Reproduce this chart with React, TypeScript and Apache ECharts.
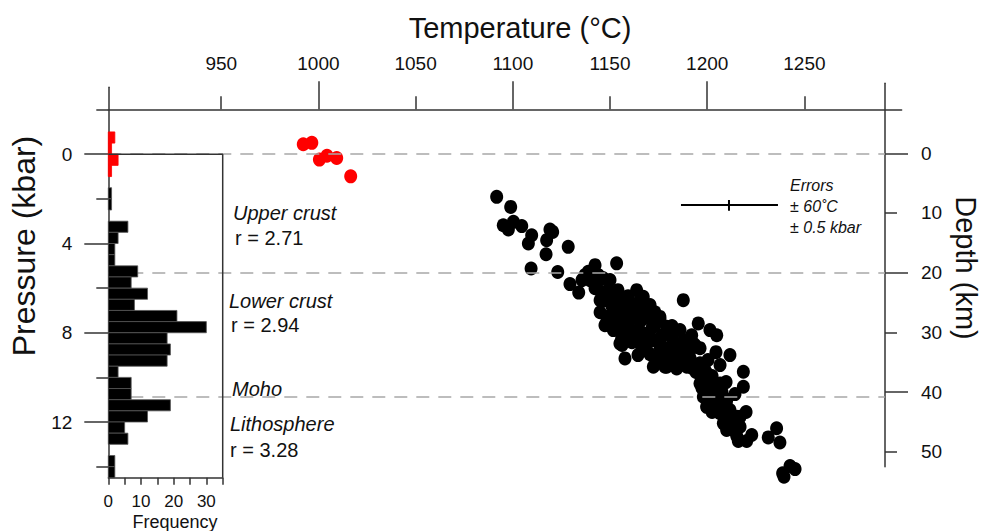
import React, { useEffect, useRef } from "react";
import * as echarts from "echarts";

const FONT = "'Liberation Sans', Arial, Helvetica, sans-serif";
const INK = "#111";
const AXIS = "#333";

// ---- axis ticks / labels ----
const temperatureLabels = [950, 1000, 1050, 1100, 1150, 1200, 1250];
const temperatureMajorTicks = [1000, 1100, 1200];
const temperatureMinorTicks = [950, 1050, 1150, 1250];
const pressureLabels = [0, 4, 8, 12];
const pressureMinorTicks = [-2, 2, 6, 10, 14];
const depthLabels = [0, 10, 20, 30, 40, 50];
const depthMajorTicks = [0, 20, 40];
const depthMinorTicks = [10, 30, 50];
const frequencyLabels = [0, 10, 20, 30];

// ---- boundaries (kbar) ----
const boundaryPressures = [0, 5.33, 10.85];

// ---- histogram (0.5 kbar bins) ----
const histBinWidth = 0.5;
const blackBinStarts = [1.5, 2.0, 3.0, 3.5, 4.0, 4.5, 5.0, 5.5, 6.0, 6.5, 7.0, 7.5, 8.0, 8.5, 9.0, 9.5, 10.0, 10.5, 11.0, 11.5, 12.0, 12.5, 13.5, 14.0];
const blackBinCounts = [1, 1, 6, 3, 2, 2, 9, 7, 12, 8, 21, 30, 18, 19, 18, 3, 7, 7, 19, 12, 5, 6, 2, 2];
const redBinStarts = [-1.0, -0.5, 0.0, 0.5];
const redBinCounts = [2, 1, 3, 1];

// ---- scatter: [temperature °C, pressure kbar] ----
const redPoints = [
  [992.2, -0.45], [996.6, -0.51], [1000.5, 0.24], [1004.4, 0.07], [1009.4, 0.17], [1016.6, 0.99],
];

const blackPoints = [
  [1091.7, 1.91], [1098.9, 2.36], [1095.1, 3.18], [1097.7, 3.37], [1100.3, 3.03], [1104.6, 3.22],
  [1109.7, 3.63], [1108.0, 4.0], [1119.1, 3.37], [1120.5, 3.48], [1117.4, 3.85], [1117.1, 4.48],
  [1128.5, 4.15], [1109.4, 5.12], [1123.1, 5.28], [1129.4, 5.82], [1133.9, 6.2], [1138.8, 5.27],
  [1142.3, 4.97], [1144.0, 5.42], [1139.7, 5.64], [1150.0, 5.64], [1153.4, 4.89], [1147.4, 6.54],
  [1149.1, 6.09], [1155.1, 6.39], [1163.7, 6.09], [1167.1, 6.39], [1168.9, 6.84], [1158.6, 6.99],
  [1148.3, 7.29], [1151.7, 7.88], [1156.0, 8.25], [1157.7, 9.15], [1187.7, 6.54], [1175.7, 7.29],
  [1179.2, 7.73], [1167.1, 8.03], [1172.3, 8.33], [1182.6, 8.48], [1186.0, 8.78], [1174.0, 9.37],
  [1182.6, 9.22], [1187.7, 9.37], [1168.9, 7.29], [1180.9, 7.88], [1195.4, 7.58], [1201.4, 7.88],
  [1204.9, 8.11], [1192.0, 8.11], [1192.8, 8.48], [1204.5, 8.87], [1211.7, 9.0], [1179.2, 9.52],
  [1184.3, 9.6], [1189.5, 9.52], [1196.3, 9.37], [1218.6, 9.75], [1218.6, 10.42], [1214.3, 10.75],
  [1199.7, 10.12], [1203.1, 10.57], [1198.0, 10.87], [1206.6, 11.02], [1199.7, 11.32], [1211.7, 11.46],
  [1215.2, 11.76], [1168.9, 8.78], [1165.4, 8.48], [1196.3, 10.27], [1204.9, 10.42], [1208.3, 12.06],
  [1210.0, 12.36], [1216.9, 12.21], [1216.0, 12.85], [1222.9, 12.58], [1235.7, 12.28], [1231.4, 12.69],
  [1237.4, 12.92], [1242.6, 13.97], [1245.2, 14.11], [1238.8, 14.3], [1239.5, 14.45], [1216.9, 11.76],
  [1206.6, 11.61], [1172.3, 9.52], [1178.3, 9.52], [1175.7, 7.43],
  [1144.9, 6.54], [1151.0, 6.81], [1154.1, 7.12], [1160.3, 7.34], [1152.6, 7.52], [1159.3, 7.7],
  [1163.4, 7.93], [1165.4, 7.52], [1171.6, 7.79], [1161.3, 8.42], [1168.0, 8.6], [1175.7, 8.6],
  [1170.6, 8.96], [1178.3, 9.05], [1184.0, 9.0], [1191.2, 9.14], [1194.2, 9.76], [1199.4, 9.76],
  [1202.5, 9.94], [1197.3, 10.48], [1201.4, 10.84], [1204.5, 11.19], [1209.7, 11.19], [1202.5, 11.55],
  [1210.7, 11.91], [1213.3, 12.36], [1208.8, 10.93], [1155.1, 7.88], [1165.4, 6.99], [1173.1, 7.08],
  [1142.3, 6.0], [1146.4, 5.55], [1135.6, 5.64], [1181.9, 8.24], [1188.0, 8.33], [1196.3, 8.69],
  [1200.4, 9.22], [1206.6, 9.45], [1191.2, 8.78], [1186.0, 7.88], [1156.2, 8.55], [1164.4, 9.0],
  [1220.0, 11.55], [1209.7, 10.21], [1137.1, 5.42], [1143.2, 5.79], [1141.4, 5.19], [1144.9, 7.08],
  [1150.0, 6.31], [1157.7, 6.54], [1161.3, 6.76], [1147.4, 7.66], [1165.4, 6.54], [1155.1, 8.48],
  [1158.6, 8.18], [1175.7, 8.33], [1182.6, 8.78], [1187.7, 8.93], [1196.3, 9.82], [1206.6, 10.27],
  [1208.3, 11.46], [1201.4, 10.72], [1210.0, 11.02], [1215.2, 12.63], [1220.3, 12.85],
  [1146.4, 6.18], [1152.6, 6.45], [1156.2, 6.76], [1151.0, 7.21], [1157.2, 7.43], [1162.3, 7.08],
  [1168.0, 7.34], [1170.6, 6.76], [1173.1, 7.66], [1164.4, 8.15], [1169.6, 8.24], [1176.8, 8.11],
  [1181.9, 7.7], [1179.8, 8.69], [1188.6, 8.69], [1193.7, 8.55], [1174.7, 9.05], [1186.0, 9.31],
  [1192.2, 9.58], [1198.4, 9.49], [1197.3, 10.03], [1203.5, 10.3], [1200.9, 11.1], [1206.1, 11.37],
  [1207.6, 10.66], [1210.7, 11.64], [1212.2, 12.09], [1154.1, 6.09], [1159.3, 6.36],
];

// ---- error bar (legend) ----
const errorBarT = [1186.5, 1236.4];
const errorBarP = 2.28;
const errorTickT = 1211.2;
const errorTickP = [2.05, 2.53];

// axis ranges
const tempMin = 891.9;
const tempMax = 1300;
const tempRightAxis = 1291.5;
const pressureMin = -3;
const pressureMax = 14.5;
const depthMin = -11.73;
const depthMax = 52.51;
const freqMax = 35;

function histData(starts: number[], counts: number[]) {
  return starts
    .map((s, i) => [s, s + histBinWidth, counts[i]])
    .filter((d) => d[2] > 0);
}

function barRenderer(fill: string) {
  return (params: any, api: any) => {
    const p0 = api.value(0);
    const p1 = api.value(1);
    const f = api.value(2);
    const a = api.coord([0, p0]);
    const b = api.coord([f, p1]);
    return {
      type: "rect",
      shape: { x: a[0], y: a[1], width: b[0] - a[0], height: b[1] - a[1] },
      style: { fill, stroke: fill === "#000" ? "#555" : fill, lineWidth: 0.8 },
    };
  };
}

const plain = (v: number) => String(v);
const labelStyle = { color: INK, fontSize: 19, fontFamily: FONT, formatter: plain };
const tickLine = { color: AXIS, width: 1.5 };

function text(t: string, x: number, y: number, size: number, italic = false, align = "left", rotation = 0) {
  return {
    type: "text",
    x,
    y,
    rotation,
    z: 20,
    style: {
      text: t,
      fill: INK,
      fontSize: size,
      fontFamily: FONT,
      fontStyle: italic ? "italic" : "normal",
      align,
      verticalAlign: "middle",
    },
  };
}

export default function App() {
  const ref = useRef<HTMLDivElement>(null);

  useEffect(() => {
    document.body.style.margin = "0";
    if (!ref.current) return;
    const chart = echarts.init(ref.current, undefined, { renderer: "svg" });

    const option: any = {
      animation: false,
      backgroundColor: "#fff",
      grid: [
        { left: 108.3, right: 992 - 901.6, top: 87.3, bottom: 531 - 477.8 },
        { left: 108.3, width: 222.7 - 108.3, top: 87.3, bottom: 531 - 477.8 },
        { left: 870, right: 107, top: 83.3, bottom: 531 - 466.7 },
      ],
      xAxis: [
        {
          gridIndex: 0,
          type: "value",
          position: "top",
          offset: -22,
          min: tempMin,
          max: tempMax,
          axisLine: { show: true, onZero: false, lineStyle: tickLine },
          axisTick: { show: true, inside: false, length: 28, customValues: temperatureMajorTicks, lineStyle: tickLine },
          axisLabel: { show: true, margin: 36, customValues: temperatureLabels, ...labelStyle },
          splitLine: { show: false },
        },
        {
          gridIndex: 0,
          type: "value",
          position: "top",
          offset: -22,
          min: tempMin,
          max: tempMax,
          axisLine: { show: false, onZero: false },
          axisTick: { show: true, inside: false, length: 13, customValues: temperatureMinorTicks, lineStyle: tickLine },
          axisLabel: { show: false },
          splitLine: { show: false },
        },
        {
          gridIndex: 1,
          type: "value",
          position: "bottom",
          min: 0,
          max: freqMax,
          interval: 5,
          axisLine: { show: true, onZero: false, lineStyle: tickLine },
          axisTick: { show: true, inside: false, length: 7, lineStyle: tickLine },
          axisLabel: { show: true, margin: 15, customValues: frequencyLabels, ...labelStyle, fontSize: 17 },
          splitLine: { show: false },
        },
        {
          gridIndex: 2,
          type: "value",
          show: false,
          axisLine: { onZero: false },
        },
      ],
      yAxis: [
        {
          gridIndex: 0,
          type: "value",
          position: "left",
          inverse: true,
          min: pressureMin,
          max: pressureMax,
          axisLine: { show: true, onZero: false, lineStyle: tickLine },
          axisTick: { show: true, inside: false, length: 24, customValues: pressureLabels, lineStyle: tickLine },
          axisLabel: { show: true, margin: 36, customValues: pressureLabels, ...labelStyle },
          splitLine: { show: false },
        },
        {
          gridIndex: 0,
          type: "value",
          position: "left",
          inverse: true,
          min: pressureMin,
          max: pressureMax,
          axisLine: { show: false, onZero: false },
          axisTick: { show: true, inside: false, length: 12, customValues: pressureMinorTicks, lineStyle: tickLine },
          axisLabel: { show: false },
          splitLine: { show: false },
        },
        {
          gridIndex: 1,
          type: "value",
          inverse: true,
          min: pressureMin,
          max: pressureMax,
          show: false,
          axisLine: { onZero: false },
        },
        {
          gridIndex: 2,
          type: "value",
          position: "right",
          inverse: true,
          min: depthMin,
          max: depthMax,
          axisLine: { show: true, onZero: false, lineStyle: tickLine },
          axisTick: { show: true, inside: false, length: 23, customValues: depthMajorTicks, lineStyle: tickLine },
          axisLabel: { show: true, margin: 36, customValues: depthLabels, ...labelStyle },
          splitLine: { show: false },
        },
        {
          gridIndex: 2,
          type: "value",
          position: "right",
          inverse: true,
          min: depthMin,
          max: depthMax,
          axisLine: { show: false, onZero: false },
          axisTick: { show: true, inside: false, length: 12, customValues: depthMinorTicks, lineStyle: tickLine },
          axisLabel: { show: false },
          splitLine: { show: false },
        },
      ],
      series: [
        {
          type: "line",
          xAxisIndex: 0,
          yAxisIndex: 0,
          data: [],
          z: 1,
          silent: true,
          markLine: {
            silent: true,
            symbol: "none",
            label: { show: false },
            lineStyle: { color: "#a8a8a8", width: 1.5, type: [13, 9] },
            data: boundaryPressures.map((p) => [
              { coord: [tempMin, p] },
              { coord: [tempRightAxis, p] },
            ]),
          },
        },
        {
          type: "scatter",
          xAxisIndex: 0,
          yAxisIndex: 0,
          symbol: "circle",
          symbolSize: [13, 14],
          clip: false,
          z: 3,
          itemStyle: { color: "#000", opacity: 1 },
          data: blackPoints,
        },
        {
          type: "scatter",
          xAxisIndex: 0,
          yAxisIndex: 0,
          symbol: "circle",
          symbolSize: [13, 14],
          clip: false,
          z: 3,
          itemStyle: { color: "#ff0000", opacity: 1 },
          data: redPoints,
        },
        {
          type: "line",
          xAxisIndex: 0,
          yAxisIndex: 0,
          symbol: "none",
          z: 4,
          lineStyle: { color: "#000", width: 2 },
          data: errorBarT.map((t) => [t, errorBarP]),
        },
        {
          type: "line",
          xAxisIndex: 0,
          yAxisIndex: 0,
          symbol: "none",
          z: 4,
          lineStyle: { color: "#000", width: 2 },
          data: errorTickP.map((p) => [errorTickT, p]),
        },
        {
          type: "custom",
          xAxisIndex: 2,
          yAxisIndex: 2,
          z: 5,
          renderItem: barRenderer("#000"),
          data: histData(blackBinStarts, blackBinCounts),
        },
        {
          type: "custom",
          xAxisIndex: 2,
          yAxisIndex: 2,
          z: 5,
          renderItem: barRenderer("#ff0000"),
          data: histData(redBinStarts, redBinCounts),
        },
        {
          type: "line",
          xAxisIndex: 2,
          yAxisIndex: 2,
          symbol: "none",
          z: 6,
          lineStyle: { color: AXIS, width: 1.5 },
          data: [[0, 0], [freqMax, 0], [freqMax, pressureMax]],
        },
      ],
      graphic: [
        text("Temperature (°C)", 520, 28, 29, false, "center"),
        text("Pressure (kbar)", 24, 246, 32, false, "center", Math.PI / 2),
        text("Depth (km)", 966, 268, 29, false, "center", -Math.PI / 2),
        text("Frequency", 175, 522, 18, false, "center"),
        text("Upper crust", 233, 213, 20, true),
        text("r = 2.71", 235, 238, 20),
        text("Lower crust", 229, 301, 20, true),
        text("r = 2.94", 231, 325, 20),
        text("Moho", 232, 389, 20, true),
        text("Lithosphere", 230, 424, 20, true),
        text("r = 3.28", 230, 450, 20),
        text("Errors", 790, 185, 16, true),
        text("± 60˚C", 790, 206, 16, true),
        text("± 0.5 kbar", 790, 227, 16, true),
      ],
    };

    chart.setOption(option);
    return () => chart.dispose();
  }, []);

  return <div ref={ref} style={{ width: 992, height: 531 }} />;
}
